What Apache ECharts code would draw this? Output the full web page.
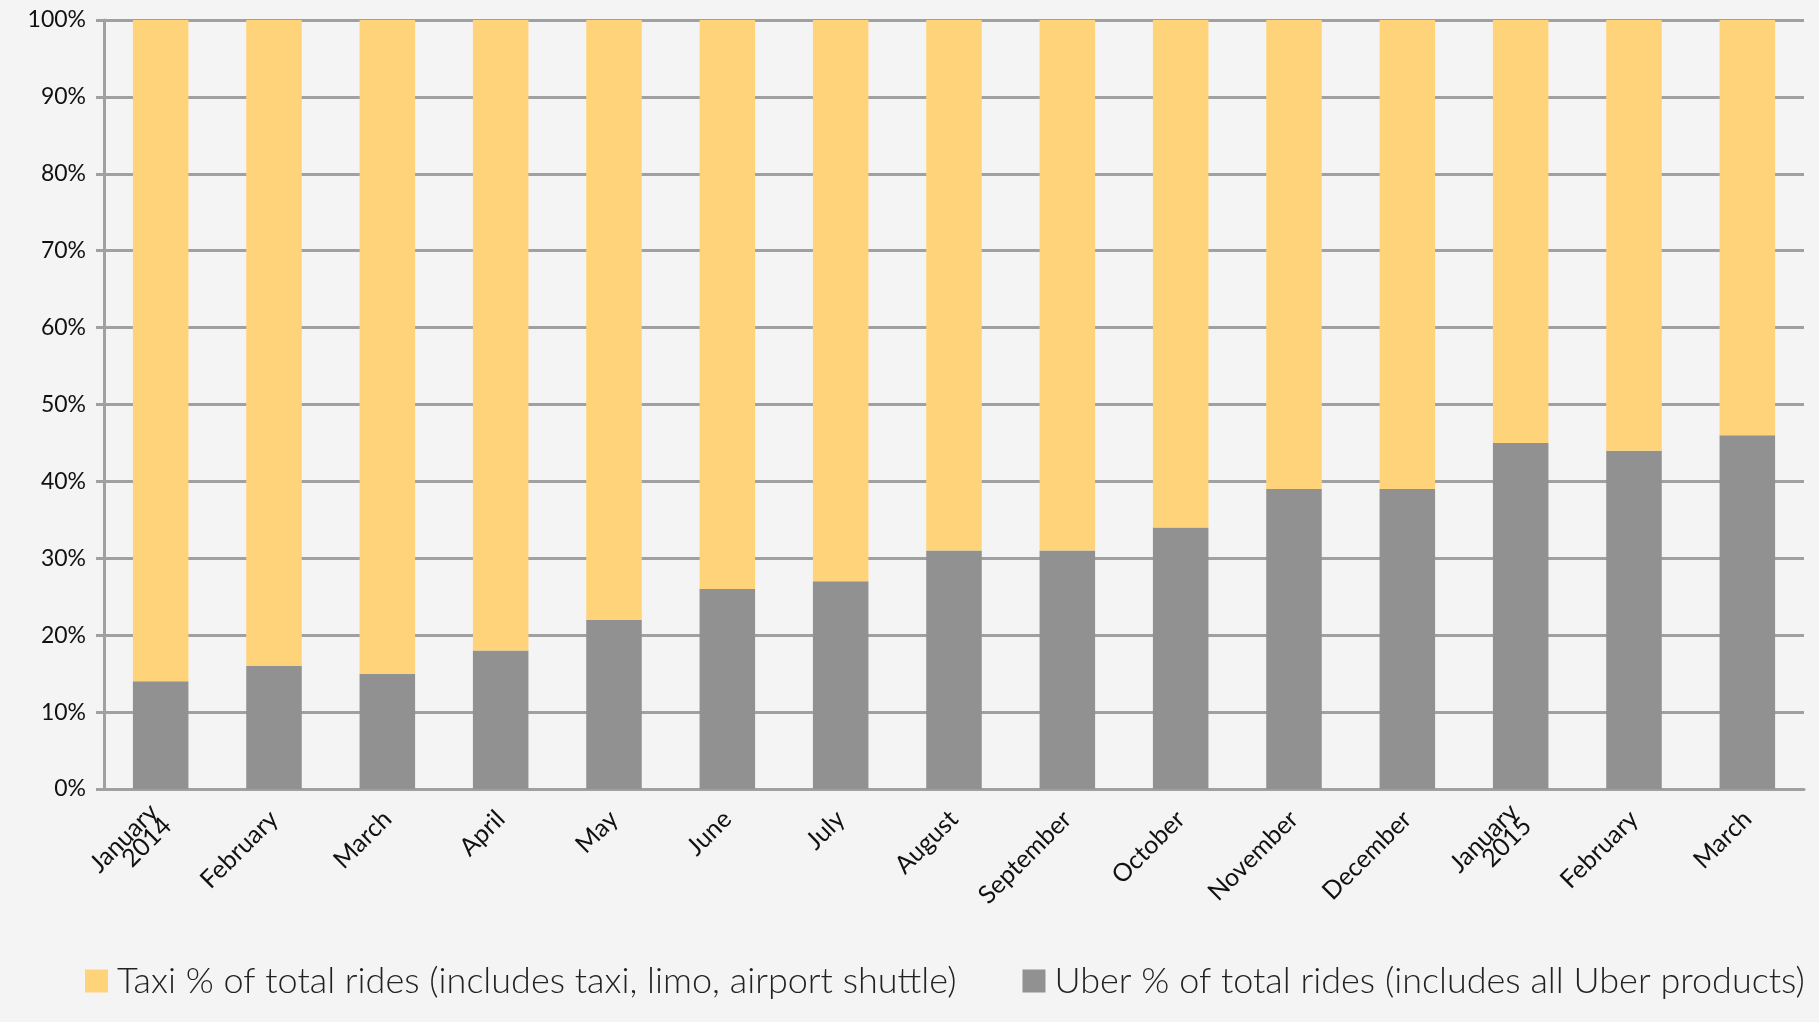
<!DOCTYPE html>
<html><head><meta charset="utf-8">
<script src="https://cdn.jsdelivr.net/npm/echarts@6/dist/echarts.min.js"></script>
<style>html,body{margin:0;padding:0;background:#f4f4f4;}#c{width:1819px;height:1022px;}</style>
</head><body><div id="c"></div>
<script>
const categories = ["January\n2014","February","March","April","May","June","July","August","September","October","November","December","January\n2015","February","March"];
const uberShare = [14,16,15,18,22,26,27,31,31,34,39,39,45,44,46];
const taxiShare = [86,84,85,82,78,74,73,69,69,66,61,61,55,56,54];
const yTicks = [0,10,20,30,40,50,60,70,80,90,100];
const seriesNames = ["Taxi % of total rides (includes taxi, limo, airport shuttle)","Uber % of total rides (includes all Uber products)"];

const chart = echarts.init(document.getElementById('c'));
const font = 'Lato';
chart.setOption({
  backgroundColor:'#f4f4f4',
  animation:false,
  grid:{left:104,right:15,top:20,bottom:233},
  legend:{
    bottom:18,left:80,
    data:[seriesNames[0],seriesNames[1]],
    icon:'rect',itemWidth:23,itemHeight:23,itemGap:66,
    textStyle:{fontFamily:font,fontSize:36,color:'#222',fontWeight:300,padding:[0,0,0,4]}
  },
  xAxis:{
    type:'category',data:categories,
    axisLine:{lineStyle:{color:'#a0a0a0',width:3}},
    axisTick:{show:false},
    axisLabel:{rotate:45,interval:0,margin:26,fontFamily:font,fontSize:25,color:'#111',lineHeight:19}
  },
  yAxis:{
    type:'value',min:0,max:100,interval:10,
    axisLine:{show:true,lineStyle:{color:'#a0a0a0',width:3}},
    axisTick:{show:true,length:8,lineStyle:{color:'#a0a0a0',width:3}},
    splitLine:{lineStyle:{color:'#a0a0a0',width:3}},
    axisLabel:{margin:18,fontFamily:font,fontSize:23,color:'#111',formatter:v=>v+'%'}
  },
  series:[
    {name:seriesNames[1],type:'bar',stack:'s',data:uberShare,barWidth:'49%',itemStyle:{color:'#919191'}},
    {name:seriesNames[0],type:'bar',stack:'s',data:taxiShare,barWidth:'49%',itemStyle:{color:'#fed37a'}}
  ]
});
</script></body></html>
